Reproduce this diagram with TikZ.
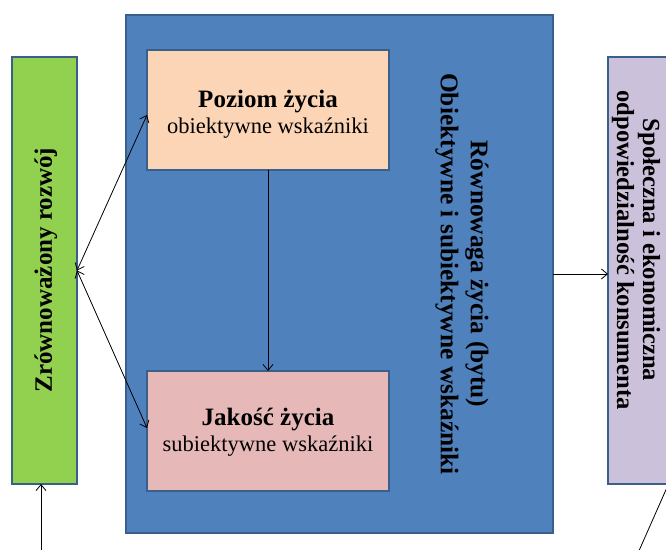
\documentclass[tikz,border=0pt]{standalone}
\usepackage{fontspec}
\setmainfont{Liberation Serif}
\usetikzlibrary{arrows.meta}
\definecolor{boxline}{HTML}{3A5F8B}
\definecolor{bluefill}{HTML}{4F81BD}
\definecolor{greenfill}{HTML}{92D050}
\definecolor{peachfill}{HTML}{FBD5B5}
\definecolor{pinkfill}{HTML}{E6B9B8}
\definecolor{purplefill}{HTML}{CCC1DA}
\begin{document}
\begin{tikzpicture}[x=1bp,y=-1bp,
  panel/.style 2 args={draw=boxline,line width=1.8bp,minimum width=#1,minimum height=#2,inner sep=0pt,outer sep=0pt},
  title/.style={font=\fontsize{25bp}{30bp}\selectfont\bfseries,inner sep=0pt},
  boxtext/.style={align=center,inner sep=0pt,font=\fontsize{22.5bp}{26bp}\selectfont},
  conn/.style={line width=0.8bp,black},
  tip/.style={-{Straight Barb[length=6bp,width=10bp]}},
  tips/.style={{Straight Barb[length=6bp,width=10bp]}-{Straight Barb[length=6bp,width=10bp]}}
]
\useasboundingbox (0,0) rectangle (666,550);
\fill[white] (0,0) rectangle (666,550);

% boxes
\node[panel={65bp}{427bp},fill=greenfill] (green) at (44.5,270.5) {};
\node[panel={427bp}{518bp},fill=bluefill] (blue) at (339.5,274) {};
\node[panel={242bp}{120bp},fill=peachfill] (peach) at (268,110) {};
\node[panel={242bp}{120bp},fill=pinkfill] (pink) at (268,431) {};
\node[panel={90bp}{427bp},fill=purplefill] (purple) at (653,270.5) {};

% texts
\node[title,rotate=90] (greentxt) at (46,270) {Zrównoważony rozwój};
\node[boxtext] (peachtxt) at (268,114) {{\fontsize{25bp}{26bp}\selectfont\bfseries Poziom życia}\\obiektywne wskaźniki};
\node[boxtext] (pinktxt) at (268,432) {{\fontsize{25bp}{26bp}\selectfont\bfseries Jakość życia}\\subiektywne wskaźniki};
\node[title,rotate=-90,align=center,font=\fontsize{25.4bp}{30bp}\selectfont\bfseries] (bluetxt) at (462,274) {Równowaga życia (bytu)\\Obiektywne i subiektywne wskaźniki};
\node[title,rotate=-90,align=center,font=\fontsize{24.6bp}{26bp}\selectfont\bfseries] (purpletxt) at (636,250) {Społeczna i ekonomiczna\\odpowiedzialność konsumenta};

% connectors
\draw[conn,tips] (green.east) -- ([yshift=-5bp]peach.west);
\draw[conn,tips] (green.east) -- ([yshift=3bp]pink.west);
\draw[conn,tip] (peach.south) -- (pink.north);
\draw[conn,tip] (blue.east) -- (blue.east -| purple.west);
\coordinate (bottomleft) at (41,552);
\draw[conn,tip] (bottomleft) -- (bottomleft |- green.south);
\coordinate (bottomright) at (638,553);
\coordinate (purplefoot) at (668.5,484);
\draw[conn] (bottomright) -- (purplefoot);
\end{tikzpicture}
\end{document}
